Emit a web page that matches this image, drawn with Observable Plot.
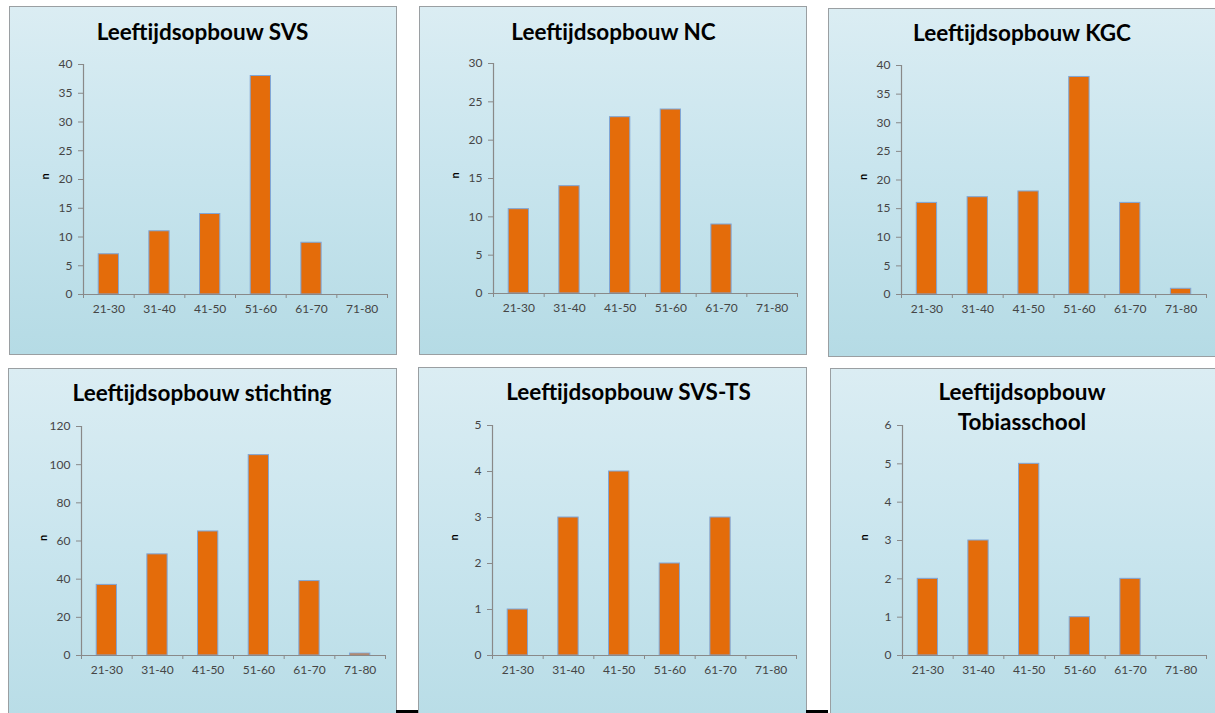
<!DOCTYPE html>
<html>
<head>
<meta charset="utf-8">
<script src="https://cdn.jsdelivr.net/npm/d3@7"></script>
<script src="https://cdn.jsdelivr.net/npm/@observablehq/plot@0.6"></script>
<style>
  html, body { margin: 0; padding: 0; background: #ffffff; }
  body { width: 1215px; height: 713px; position: relative; overflow: hidden; font-family: Lato, "Open Sans", sans-serif; }
  .panel { position: absolute; box-sizing: border-box; border: 1.5px solid #9a9fa2;
           background: linear-gradient(to bottom, #dbedf3 0%, #c9e5ee 45%, #b5dbe5 100%); }
  .title { position: absolute; width: 400px; text-align: center; font-weight: 700; font-size: 22.5px;
           line-height: 30px; color: #000; white-space: nowrap; }
  .chart { position: absolute; }
  .mark { position: absolute; background: #000; }
</style>
</head>
<body>
<script>
// ---- data ----
const categories = ["21-30", "31-40", "41-50", "51-60", "61-70", "71-80"];
const valuesSVS = [7, 11, 14, 38, 9, 0];
const valuesNC = [11, 14, 23, 24, 9, 0];
const valuesKGC = [16, 17, 18, 38, 16, 1];
const valuesStichting = [37, 53, 65, 105, 39, 1];
const valuesSVSTS = [1, 3, 4, 2, 3, 0];
const valuesTobias = [2, 3, 5, 1, 2, 0];
const titles = [
  ["Leeftijdsopbouw SVS"],
  ["Leeftijdsopbouw NC"],
  ["Leeftijdsopbouw KGC"],
  ["Leeftijdsopbouw stichting"],
  ["Leeftijdsopbouw SVS-TS"],
  ["Leeftijdsopbouw", "Tobiasschool"]
];
const yMaxes = [40, 30, 40, 120, 5, 6];
const ySteps = [5, 5, 5, 20, 1, 1];
const yLabel = "n";

// ---- layout (page pixels) ----
const panels = [
  {box: [9, 6, 397, 355], plot: [83, 387, 64, 294], title: [202.5, [40]]},
  {box: [419, 6, 807, 355], plot: [493, 797, 63, 293], title: [613.5, [40]]},
  {box: [828, 8, 1240, 357], plot: [901, 1206, 65, 294], title: [1022, [41.5]]},
  {box: [8, 368, 397, 760], plot: [81, 385, 426, 655], title: [202, [401.5]]},
  {box: [418, 367, 807, 760], plot: [492, 796, 425, 655], title: [628.5, [400.5]]},
  {box: [830, 368, 1240, 760], plot: [902, 1206, 425, 655], title: [1022, [400.5, 430]]}
];
const seriesList = [valuesSVS, valuesNC, valuesKGC, valuesStichting, valuesSVSTS, valuesTobias];

const axisColor = "#898989";
const textColor = "#454545";
const barFill = "#e46c0a";
const barStroke = "#7ea6d8";

panels.forEach((p, k) => {
  const [bl, bt, br, bb] = p.box;
  const panel = document.createElement("div");
  panel.className = "panel";
  panel.style.left = bl + "px";
  panel.style.top = bt + "px";
  panel.style.width = (br - bl) + "px";
  panel.style.height = (bb - bt) + "px";
  document.body.appendChild(panel);

  // title lines (baseline positioned)
  const [cx, baselines] = p.title;
  titles[k].forEach((line, j) => {
    const t = document.createElement("div");
    t.className = "title";
    t.textContent = line;
    t.style.left = (cx - 200) + "px";
    t.style.top = (baselines[j] - 23.2) + "px";
    document.body.appendChild(t);
  });

  const [x0, x1, yTop, y0] = p.plot;
  const mL = 75, mR = 12, mT = 20, mB = 40;
  const data = categories.map((c, i) => ({i, cat: c, n: seriesList[k][i]}));
  const yTicks = d3.range(0, yMaxes[k] + ySteps[k] / 2, ySteps[k]);

  const chart = Plot.plot({
    width: (x1 - x0) + mL + mR,
    height: (y0 - yTop) + mT + mB,
    marginLeft: mL, marginRight: mR, marginTop: mT, marginBottom: mB,
    style: {background: "transparent", fontFamily: "Lato, 'Open Sans', sans-serif", fontSize: "12px", color: textColor, overflow: "visible"},
    x: {domain: [0, categories.length], axis: null},
    y: {domain: [0, yMaxes[k]], axis: null},
    marks: [
      Plot.rectY(data.filter(d => d.n > 0), {
        x1: d => d.i + 0.3, x2: d => d.i + 0.7, y: "n",
        fill: barFill, stroke: barStroke, strokeWidth: 1
      }),
      Plot.ruleX([0], {stroke: axisColor, strokeWidth: 1.2}),
      Plot.ruleY([0], {stroke: axisColor, strokeWidth: 1.2}),
      Plot.axisY({ticks: yTicks, tickSize: 5, tickPadding: 6, tickFormat: d3.format("d"),
        stroke: axisColor, fill: textColor, fontSize: 12, label: null}),
      Plot.axisX({ticks: d3.range(categories.length + 1), tickSize: 4, tickFormat: () => "", stroke: axisColor, label: null}),
      Plot.axisX({ticks: categories.map((c, i) => i + 0.5), tickSize: 0, tickPadding: 10,
        tickFormat: d => categories[Math.floor(d)], fill: textColor, fontSize: 12, label: null}),
      Plot.text([yLabel], {frameAnchor: "left", dx: -38, rotate: -90, fontWeight: "bold", fontSize: 11, fill: "#000"})
    ]
  });
  chart.classList.add("chart");
  chart.style.left = (x0 - mL) + "px";
  chart.style.top = (yTop - mT) + "px";
  document.body.appendChild(chart);
});

// small dark strokes at the bottom edge between panels
[[396, 710, 22, 3], [806, 710, 22, 3]].forEach(([l, t, w, h]) => {
  const m = document.createElement("div");
  m.className = "mark";
  m.style.left = l + "px"; m.style.top = t + "px";
  m.style.width = w + "px"; m.style.height = h + "px";
  document.body.appendChild(m);
});
</script>
</body>
</html>
